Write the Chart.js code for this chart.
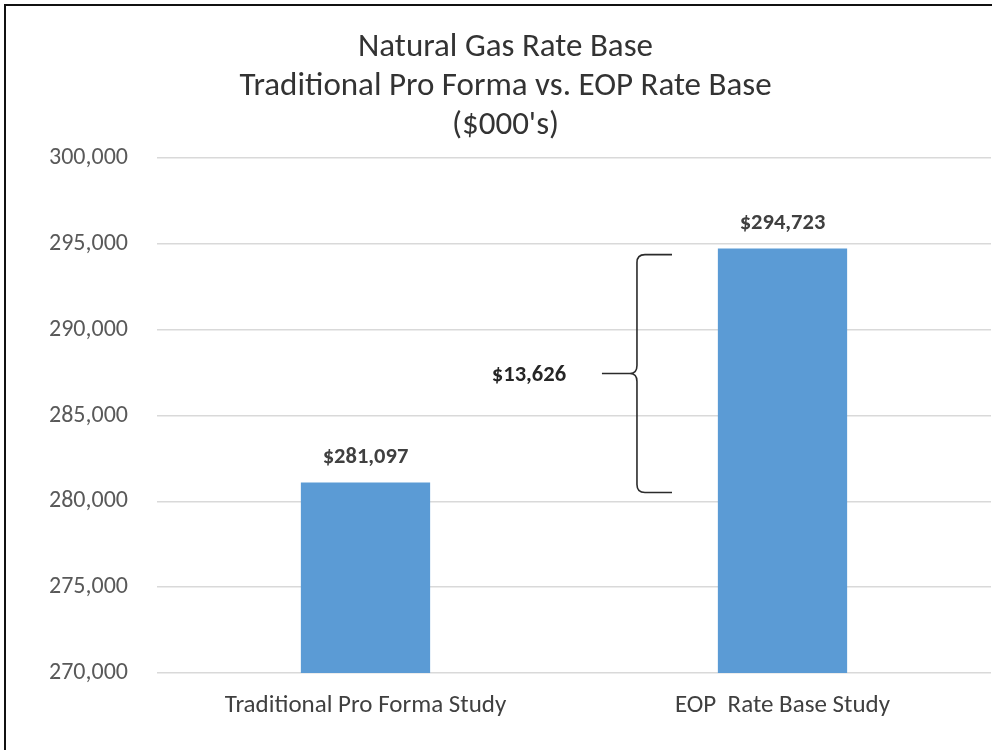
<!DOCTYPE html>
<html>
<head>
<meta charset="utf-8">
<style>
  html, body { margin: 0; padding: 0; background: #ffffff; }
  canvas { display: block; }
</style>
<script src="https://cdn.jsdelivr.net/npm/chart.js@4/dist/chart.umd.min.js"></script>
</head>
<body>
<canvas id="chart" width="992" height="750"></canvas>
<script>
// Rate base by study ($000's)
const categories = ['Traditional Pro Forma Study', 'EOP  Rate Base Study'];
const rateBase = [281097, 294723];

// Value axis range
const yMin = 270000;
const yMax = 300000;
const yStep = 5000;

const titleLines = ['Natural Gas Rate Base', 'Traditional Pro Forma vs. EOP Rate Base', "($000's)"];

const BAR_BLUE = '#5B9BD5';
const FONT = 'Carlito, Lato, sans-serif';

const fmtMoney = v => '$' + Math.round(v).toLocaleString('en-US');

// White page with a frame along the top and left edges
const framePlugin = {
  id: 'frame',
  beforeDraw(chart) {
    const ctx = chart.ctx;
    ctx.save();
    ctx.fillStyle = '#ffffff';
    ctx.fillRect(0, 0, chart.width, chart.height);
    ctx.strokeStyle = '#111111';
    ctx.lineWidth = 2;
    ctx.beginPath();
    ctx.moveTo(5, chart.height);
    ctx.lineTo(5, 5);
    ctx.lineTo(chart.width, 5);
    ctx.stroke();
    ctx.restore();
  }
};

// Value labels above each bar
const valueLabels = {
  id: 'valueLabels',
  afterDatasetsDraw(chart) {
    const ctx = chart.ctx;
    const meta = chart.getDatasetMeta(0);
    ctx.save();
    ctx.font = 'bold 22.5px ' + FONT;
    ctx.fillStyle = '#404040';
    ctx.textAlign = 'center';
    ctx.textBaseline = 'alphabetic';
    meta.data.forEach((bar, i) => {
      ctx.fillText(fmtMoney(rateBase[i]), bar.x, bar.y - 20);
    });
    ctx.restore();
  }
};

// Curly brace spanning the gap between the two studies, with the difference
const gapBrace = {
  id: 'gapBrace',
  afterDatasetsDraw(chart) {
    const ctx = chart.ctx;
    const xs = chart.scales.x;
    const ys = chart.scales.y;
    const lo = Math.min(...rateBase);
    const hi = Math.max(...rateBase);
    const top = ys.getPixelForValue(hi) + 6;
    const bot = ys.getPixelForValue(lo) + 10;
    const mid = (top + bot) / 2;
    const x = xs.getPixelForValue(0.651);
    const xHook = xs.getPixelForValue(0.735);
    const xTip = xs.getPixelForValue(0.567);
    const r = 8;
    ctx.save();
    ctx.strokeStyle = '#2b2b2b';
    ctx.lineWidth = 1.6;
    ctx.lineJoin = 'round';
    ctx.beginPath();
    ctx.moveTo(xHook, top);
    ctx.lineTo(x + r, top);
    ctx.quadraticCurveTo(x, top, x, top + r);
    ctx.lineTo(x, mid - r);
    ctx.quadraticCurveTo(x, mid, x - 7, mid);
    ctx.quadraticCurveTo(x, mid, x, mid + r);
    ctx.lineTo(x, bot - r);
    ctx.quadraticCurveTo(x, bot, x + r, bot);
    ctx.lineTo(xHook, bot);
    ctx.moveTo(x - 7, mid);
    ctx.lineTo(xTip, mid);
    ctx.stroke();

    ctx.font = 'bold 22.5px ' + FONT;
    ctx.fillStyle = '#262626';
    ctx.textAlign = 'center';
    ctx.textBaseline = 'middle';
    ctx.fillText(fmtMoney(hi - lo), xs.getPixelForValue(0.392), mid + 2);
    ctx.restore();
  }
};

new Chart(document.getElementById('chart'), {
  type: 'bar',
  data: {
    labels: categories,
    datasets: [{
      data: rateBase,
      backgroundColor: BAR_BLUE,
      borderWidth: 0,
      barPercentage: 0.31,
      categoryPercentage: 1.0
    }]
  },
  options: {
    responsive: false,
    animation: false,
    events: [],
    layout: { padding: { left: 20, right: 1, top: 0, bottom: 0 } },
    plugins: {
      legend: { display: false },
      tooltip: { enabled: false },
      title: {
        display: true,
        text: titleLines,
        color: '#333333',
        font: { family: FONT, size: 33, weight: 'normal', lineHeight: 39 / 33 },
        padding: { top: 28, bottom: 13 }
      }
    },
    scales: {
      x: {
        grid: { display: false },
        border: { display: false },
        ticks: {
          color: '#404040',
          font: { family: FONT, size: 25 },
          padding: 10,
          maxRotation: 0,
          autoSkip: false
        },
        afterFit(scale) { scale.height = 77; }
      },
      y: {
        min: yMin,
        max: yMax,
        border: { display: false },
        grid: { color: '#d9d9d9', lineWidth: 1.5, drawTicks: false },
        ticks: {
          stepSize: yStep,
          color: '#595959',
          font: { family: FONT, size: 24 },
          padding: 29,
          callback: v => Number(v).toLocaleString('en-US')
        },
        afterFit(scale) { scale.width = 137; }
      }
    }
  },
  plugins: [framePlugin, valueLabels, gapBrace]
});
</script>
</body>
</html>
